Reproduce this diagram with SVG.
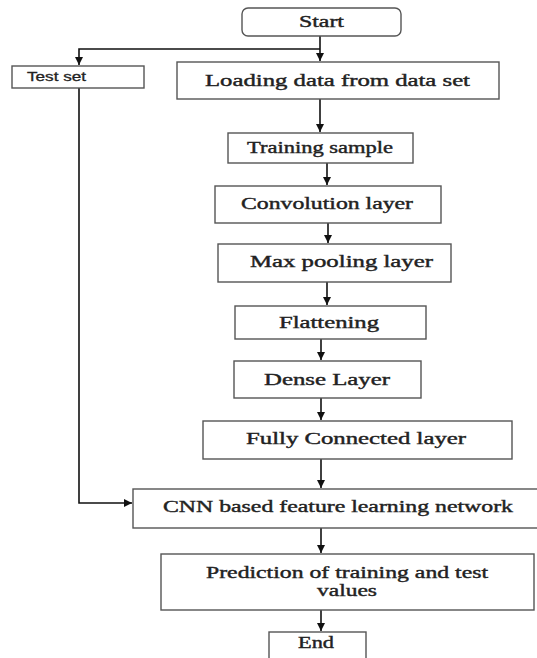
<svg xmlns="http://www.w3.org/2000/svg" width="537" height="658" viewBox="0 0 537 658">
<defs>
<marker id="ah" markerUnits="userSpaceOnUse" markerWidth="9" markerHeight="9" refX="8" refY="4" orient="auto">
<path d="M0,0 L8,4 L0,8 z" fill="#111"/>
</marker>
<style>
.box{fill:#fff;stroke:#555;stroke-width:1.4}
.t{font-family:"Liberation Serif","Times New Roman",serif;font-size:16.5px;font-weight:normal;fill:#222;stroke:#222;stroke-width:0.4;text-anchor:start}
.s{font-family:"Liberation Sans",Arial,sans-serif;font-size:12.5px;font-weight:normal;fill:#222;stroke:#222;stroke-width:0.3}
.c{fill:none;stroke:#111;stroke-width:1.6}
</style>
</defs>
<rect width="537" height="658" fill="#fff"/>
<g id="connectors">
<path class="c" d="M320,36 V61" marker-end="url(#ah)"/>
<path class="c" d="M320,49 H79 V65" marker-end="url(#ah)"/>
<path class="c" d="M320,99 V132" marker-end="url(#ah)"/>
<path class="c" d="M327,163 V185" marker-end="url(#ah)"/>
<path class="c" d="M328,223 V243" marker-end="url(#ah)"/>
<path class="c" d="M327,282 V305" marker-end="url(#ah)"/>
<path class="c" d="M321,339 V360" marker-end="url(#ah)"/>
<path class="c" d="M321,398 V420" marker-end="url(#ah)"/>
<path class="c" d="M321,459 V488" marker-end="url(#ah)"/>
<path class="c" d="M79,88 V503 H132" marker-end="url(#ah)"/>
<path class="c" d="M321,528 V553" marker-end="url(#ah)"/>
<path class="c" d="M321,610 V631" marker-end="url(#ah)"/>
</g>
<g id="start">
<rect class="box" x="242" y="8" width="159" height="28" rx="6"/>
<text class="t" x="299" y="27" textLength="45" lengthAdjust="spacingAndGlyphs">Start</text>
</g>
<g id="testset">
<rect class="box" x="12" y="66" width="132" height="22"/>
<text class="s" x="27" y="81" textLength="59" lengthAdjust="spacingAndGlyphs">Test set</text>
</g>
<g id="loading">
<rect class="box" x="177" y="62" width="322" height="37"/>
<text class="t" x="205" y="86" textLength="265" lengthAdjust="spacingAndGlyphs">Loading data from data set</text>
</g>
<g id="training">
<rect class="box" x="228" y="133" width="185" height="30"/>
<text class="t" x="247" y="153" textLength="146" lengthAdjust="spacingAndGlyphs">Training sample</text>
</g>
<g id="convolution">
<rect class="box" x="215" y="186" width="226" height="37"/>
<text class="t" x="241" y="209" textLength="172" lengthAdjust="spacingAndGlyphs">Convolution layer</text>
</g>
<g id="maxpool">
<rect class="box" x="218" y="244" width="233" height="38"/>
<text class="t" x="250" y="267" textLength="183" lengthAdjust="spacingAndGlyphs">Max pooling layer</text>
</g>
<g id="flattening">
<rect class="box" x="235" y="306" width="191" height="33"/>
<text class="t" x="279" y="328" textLength="100" lengthAdjust="spacingAndGlyphs">Flattening</text>
</g>
<g id="dense">
<rect class="box" x="234" y="361" width="187" height="37"/>
<text class="t" x="264" y="385" textLength="126" lengthAdjust="spacingAndGlyphs">Dense Layer</text>
</g>
<g id="fullyconnected">
<rect class="box" x="203" y="421" width="309" height="38"/>
<text class="t" x="246" y="444" textLength="220" lengthAdjust="spacingAndGlyphs">Fully Connected layer</text>
</g>
<g id="cnn">
<rect class="box" x="133" y="489" width="410" height="39"/>
<text class="t" x="163" y="512" textLength="350" lengthAdjust="spacingAndGlyphs">CNN based feature learning network</text>
</g>
<g id="prediction">
<rect class="box" x="161" y="554" width="373" height="56"/>
<text class="t" x="206" y="578" textLength="282" lengthAdjust="spacingAndGlyphs">Prediction of training and test</text>
<text class="t" x="317" y="596" textLength="60" lengthAdjust="spacingAndGlyphs">values</text>
</g>
<g id="end">
<rect class="box" x="269" y="632" width="97" height="30"/>
<text class="t" x="298" y="648" textLength="36" lengthAdjust="spacingAndGlyphs">End</text>
</g>
</svg>
